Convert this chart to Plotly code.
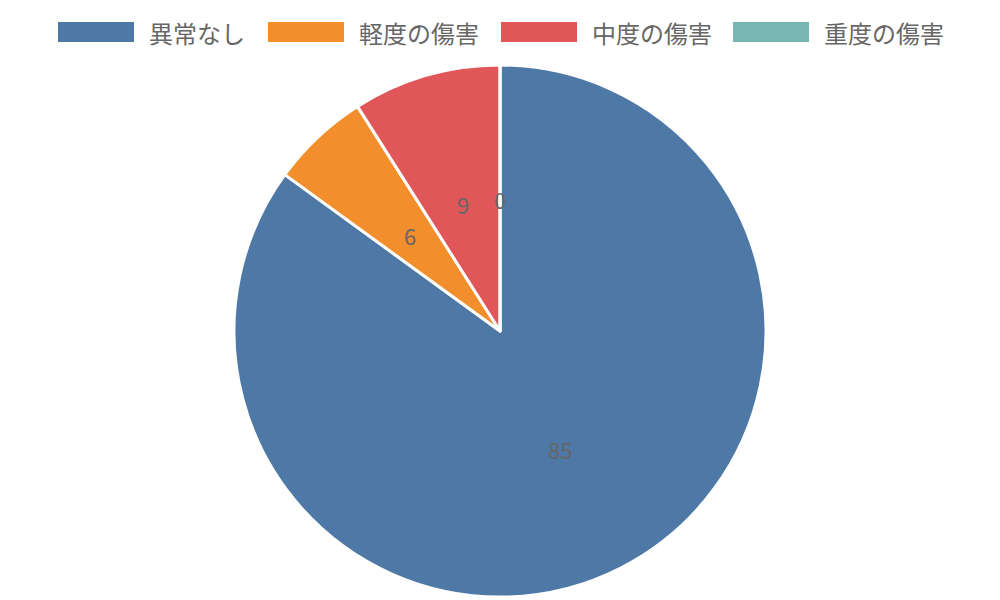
import math
import plotly.graph_objects as go

categories = ["異常なし", "軽度の傷害", "中度の傷害", "重度の傷害"]
values = [85, 6, 9, 0]
colors = ["#4e79a7", "#f28e2b", "#e15759", "#76b7b2"]

FONT = "Noto Sans CJK JP, Noto Sans, sans-serif"
TEXT_COLOR = "#666666"

W, H = 1000, 600
M_T, M_B = 65, 3
PLOT_H = H - M_T - M_B
RADIUS = 264

fig = go.Figure()
fig.add_trace(go.Pie(
    labels=categories,
    values=values,
    sort=False,
    direction="clockwise",
    rotation=0,
    marker=dict(colors=colors, line=dict(color="#ffffff", width=3)),
    textinfo="none",
    showlegend=False,
    hoverinfo="label+value",
    domain=dict(x=[0, 1], y=[0, 1]),
))

# value labels at half radius, on each slice's mid angle (derived from data)
total = sum(values)
cum = 0
for v in values:
    mid = (cum + v / 2) / total * 2 * math.pi
    cum += v
    dx = 0.5 * RADIUS * math.sin(mid)
    dy = 0.5 * RADIUS * math.cos(mid)
    fig.add_annotation(xref="paper", yref="paper",
                       x=0.5 + dx / W, y=0.5 + dy / PLOT_H,
                       xanchor="center", yanchor="middle", showarrow=False,
                       text=str(v), font=dict(family=FONT, size=22, color=TEXT_COLOR))

# custom legend with wide colour rectangles
legend_x = [58, 268, 501, 733]
rect_w = 76
for name, col, x0 in zip(categories, colors, legend_x):
    fig.add_shape(type="rect", xref="paper", yref="paper",
                  x0=x0 / W, x1=(x0 + rect_w) / W,
                  y0=(H - 42 - M_B) / PLOT_H, y1=(H - 22 - M_B) / PLOT_H,
                  line=dict(width=0), fillcolor=col)
    fig.add_annotation(xref="paper", yref="paper",
                       x=(x0 + rect_w + 13) / W, y=(H - 32 - M_B) / PLOT_H,
                       xanchor="left", yanchor="middle", showarrow=False,
                       text=name, font=dict(family=FONT, size=24, color=TEXT_COLOR))

fig.update_layout(
    width=W, height=H,
    margin=dict(l=0, r=0, t=M_T, b=M_B),
    paper_bgcolor="#ffffff",
    plot_bgcolor="#ffffff",
)

fig.write_html("out.html", config={"displayModeBar": False},
               post_script="document.body.style.margin='0';")
